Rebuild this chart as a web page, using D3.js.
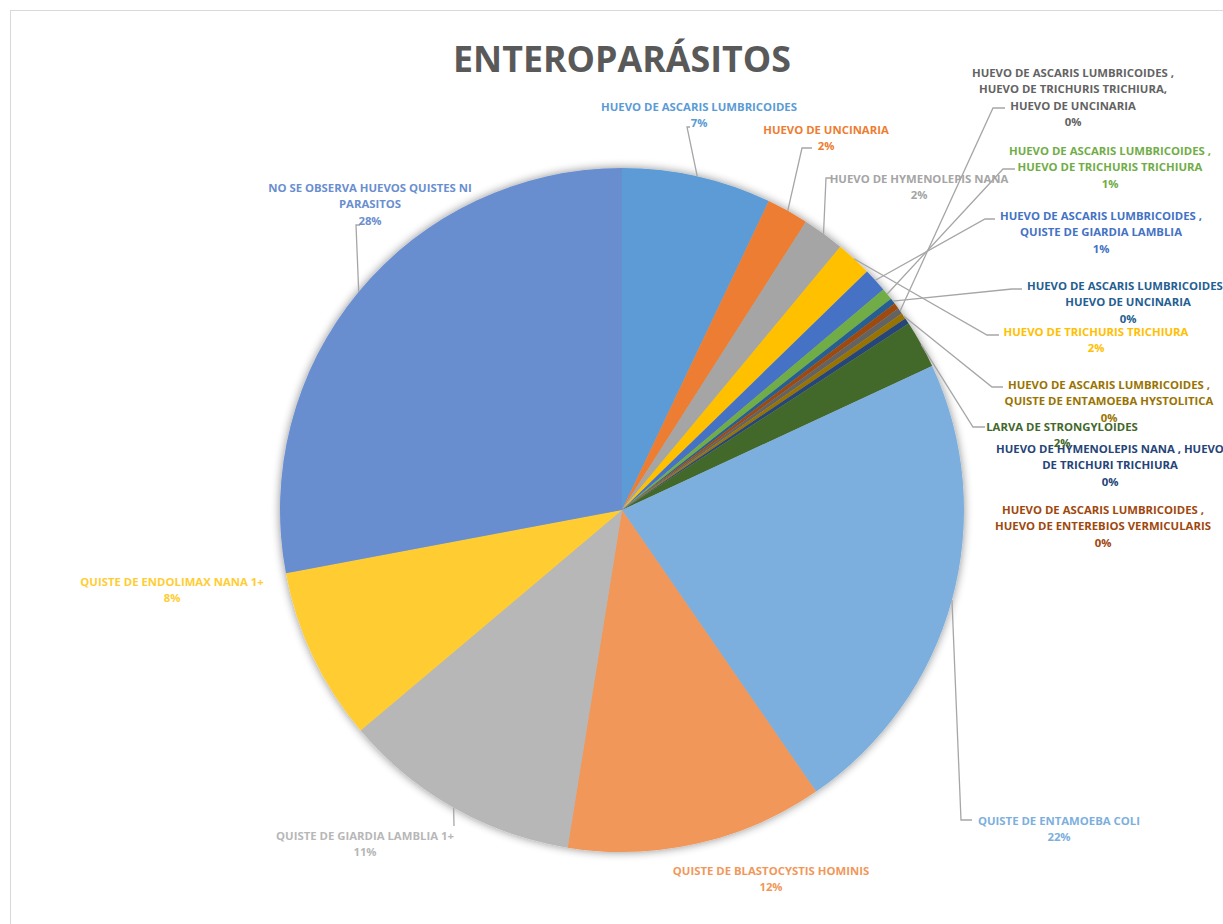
<!DOCTYPE html>
<html><head><meta charset="utf-8">
<script src="https://cdn.jsdelivr.net/npm/d3@7"></script>
<style>body{margin:0;background:#fff;overflow:hidden}</style>
</head><body>
<svg id="chart" width="1223" height="924"></svg>
<script>
// ---------- DATA ----------
const title = "ENTEROPARÁSITOS";
const categories = [
  "HUEVO DE ASCARIS LUMBRICOIDES",
  "HUEVO DE UNCINARIA",
  "HUEVO DE HYMENOLEPIS NANA",
  "HUEVO DE TRICHURIS TRICHIURA",
  "HUEVO DE ASCARIS LUMBRICOIDES , QUISTE DE GIARDIA LAMBLIA",
  "HUEVO DE ASCARIS LUMBRICOIDES , HUEVO DE TRICHURIS TRICHIURA",
  "HUEVO DE ASCARIS LUMBRICOIDES , HUEVO DE UNCINARIA",
  "HUEVO DE ASCARIS LUMBRICOIDES , HUEVO DE ENTEREBIOS VERMICULARIS",
  "HUEVO DE ASCARIS LUMBRICOIDES , HUEVO DE TRICHURIS TRICHIURA, HUEVO DE UNCINARIA",
  "HUEVO DE ASCARIS LUMBRICOIDES , QUISTE DE ENTAMOEBA HYSTOLITICA",
  "HUEVO DE HYMENOLEPIS NANA , HUEVO DE TRICHURI TRICHIURA",
  "LARVA DE STRONGYLOIDES",
  "QUISTE DE ENTAMOEBA COLI",
  "QUISTE DE BLASTOCYSTIS HOMINIS",
  "QUISTE DE GIARDIA LAMBLIA 1+",
  "QUISTE DE ENDOLIMAX NANA 1+",
  "NO SE OBSERVA HUEVOS QUISTES NI PARASITOS"
];
const values = [25, 7, 7, 6, 4, 2, 1, 1, 1, 1, 1, 8, 79, 43, 40, 29, 99];

// label text split into lines (as displayed)
const labelLines = [
  ["HUEVO DE ASCARIS LUMBRICOIDES"],
  ["HUEVO DE UNCINARIA"],
  ["HUEVO DE HYMENOLEPIS NANA"],
  ["HUEVO DE TRICHURIS TRICHIURA"],
  ["HUEVO DE ASCARIS LUMBRICOIDES ,", "QUISTE DE GIARDIA LAMBLIA"],
  ["HUEVO DE ASCARIS LUMBRICOIDES ,", "HUEVO DE TRICHURIS TRICHIURA"],
  ["HUEVO DE ASCARIS LUMBRICOIDES ,", "HUEVO DE UNCINARIA"],
  ["HUEVO DE ASCARIS LUMBRICOIDES ,", "HUEVO DE ENTEREBIOS VERMICULARIS"],
  ["HUEVO DE ASCARIS LUMBRICOIDES ,", "HUEVO DE TRICHURIS TRICHIURA,", "HUEVO DE UNCINARIA"],
  ["HUEVO DE ASCARIS LUMBRICOIDES ,", "QUISTE DE ENTAMOEBA HYSTOLITICA"],
  ["HUEVO DE HYMENOLEPIS NANA , HUEVO", "DE TRICHURI TRICHIURA"],
  ["LARVA DE STRONGYLOIDES"],
  ["QUISTE DE ENTAMOEBA COLI"],
  ["QUISTE DE BLASTOCYSTIS HOMINIS"],
  ["QUISTE DE GIARDIA LAMBLIA 1+"],
  ["QUISTE DE ENDOLIMAX NANA 1+"],
  ["NO SE OBSERVA HUEVOS QUISTES NI", "PARASITOS"]
];

// ---------- STYLE / LAYOUT ----------
const colors = ["#5B9BD5","#ED7D31","#A5A5A5","#FFC000","#4472C4","#70AD47",
  "#255E91","#9E480E","#636363","#997300","#264478","#43682B",
  "#7CAFDD","#F1975A","#B7B7B7","#FFCD33","#698ED0"];
// label block: [centerX, centerY of first line]
const labelPos = [
  [699,106],[826,129],[919,178],[1096,331],[1101,215],[1110,150],
  [1128,285],[1103,509],[1073,72],[1109,384],[1110,448],[1062,426],
  [1059,820],[771,870],[365,835],[172,581],[370,187]
];
// leader: [elbowX, elbowY, endX] or null
const leaders = [
  [687,127,690],[802,148,812],[826,178,831],[987,335,999],[985,219,995],[1003,169,1015],
  [1012,289,1022],null,[993,108,1005],[992,387,1003],null,[973,427,985],
  [961,820,972],null,[454,826,454],null,[356,225,360]
];
const cx = 622, cy = 510, R = 342, lineH = 16.5;

const svg = d3.select("#chart");
const defs = svg.append("defs");
const f = defs.append("filter").attr("id","shadow").attr("x","-10%").attr("y","-10%").attr("width","120%").attr("height","120%");
f.append("feGaussianBlur").attr("in","SourceAlpha").attr("stdDeviation",5).attr("result","b");
f.append("feOffset").attr("in","b").attr("dx",0).attr("dy",0).attr("result","o");
f.append("feComponentTransfer").attr("in","o").attr("result","s")
  .append("feFuncA").attr("type","linear").attr("slope",0.45);
const m = f.append("feMerge");
m.append("feMergeNode").attr("in","s");
m.append("feMergeNode").attr("in","SourceGraphic");

svg.append("rect").attr("x",10.5).attr("y",10.5).attr("width",1260).attr("height",960)
  .attr("fill","#fff").attr("stroke","#D9D9D9").attr("stroke-width",1);

const fontFam = "'Open Sans', 'Liberation Sans', sans-serif";

// fit font sizes to reference widths
function fitSize(text, weight, target) {
  const t = svg.append("text").attr("font-family", fontFam).attr("font-weight", weight)
    .attr("font-size", 100).text(text);
  const w = t.node().getComputedTextLength();
  t.remove();
  return 100 * target / w;
}
const labelFont = fitSize("HUEVO DE ASCARIS LUMBRICOIDES", "bold", 196);
const titleFont = fitSize(title, "bold", 338);

svg.append("text").attr("x", cx).attr("y", 72).attr("text-anchor","middle")
  .attr("font-family", fontFam).attr("font-weight","bold").attr("font-size", titleFont)
  .attr("fill","#595959").text(title);

const data = categories.map((c,i)=>({name:c, value:values[i], i}));
const total = d3.sum(values);
const pie = d3.pie().value(d=>d.value).sort(null);
const arcs = pie(data);
const arc = d3.arc().innerRadius(0).outerRadius(R);

const g = svg.append("g").attr("transform",`translate(${cx},${cy})`);
g.append("g").attr("filter","url(#shadow)").selectAll("path").data(arcs).join("path")
  .attr("d", arc).attr("fill", d=>colors[d.index]);

// leader lines
const edgeArc = d3.arc().innerRadius(R).outerRadius(R);
const leadG = svg.append("g").attr("fill","none").attr("stroke","#A6A6A6").attr("stroke-width",1.3);
arcs.forEach(a=>{
  const L = leaders[a.index];
  if(!L) return;
  const mid = (a.startAngle + a.endAngle)/2;
  const sx = cx + R*Math.sin(mid), sy = cy - R*Math.cos(mid);
  leadG.append("path").attr("d", d3.line()([[sx,sy],[L[0],L[1]],[L[2],L[1]]]));
});

// labels
const labG = svg.append("g").attr("font-family", fontFam).attr("font-weight","bold")
  .attr("font-size", labelFont).attr("text-anchor","middle");
arcs.forEach(a=>{
  const i = a.index;
  const lines = labelLines[i].concat([Math.round(a.data.value/total*100)+"%"]);
  const t = labG.append("text").attr("fill", colors[i]);
  lines.forEach((ln,k)=>{
    t.append("tspan").attr("x", labelPos[i][0]).attr("y", labelPos[i][1] + k*lineH)
      .attr("dominant-baseline","central").text(ln);
  });
});
</script>
</body></html>
